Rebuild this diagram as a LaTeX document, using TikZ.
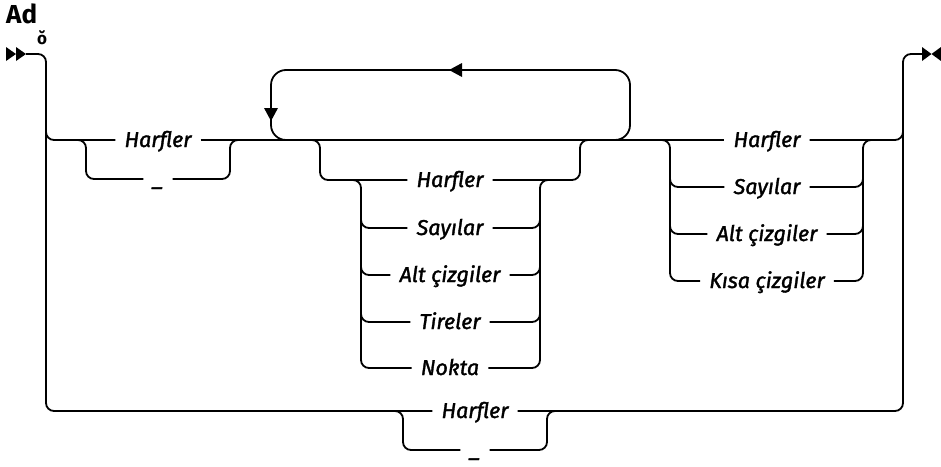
\documentclass[tikz,border=0pt]{standalone}
\usepackage{fontspec}
\setmainfont{Fira Sans}
\newfontfamily\lblfont[FakeBold=1.6]{Fira Sans}
\begin{document}
\begin{tikzpicture}[x=1pt,y=-1pt,
  rr/.style={line width=1.8pt, rounded corners=8pt},
  loopline/.style={line width=1.8pt, rounded corners=15pt},
  lbl/.style={font=\lblfont\fontsize{21.5}{23}\selectfont\itshape, inner xsep=9pt, inner ysep=0pt, text height=14pt, text depth=0pt},
  tip/.style={fill=black}]
\useasboundingbox (0,0) rectangle (941,466);
% title and mark
\node[font=\fontsize{26}{28}\selectfont\bfseries, anchor=base west, inner sep=0pt] (title) at (6,23) {Ad};
\node[font=\fontsize{17}{18}\selectfont\bfseries, inner sep=0pt] (mk) at (42,38) {ŏ};
% labels
\node[lbl] (h1) at (158,140) {Harfler};
\node[lbl] (u1) at (158,179) {\_};
\node[lbl] (m1) at (450,180) {Harfler};
\node[lbl] (m2) at (450,228) {Sayılar};
\node[lbl] (m3) at (450,275) {Alt çizgiler};
\node[lbl] (m4) at (450,322) {Tireler};
\node[lbl] (m5) at (450,368) {Nokta};
\node[lbl] (r1) at (767,140) {Harfler};
\node[lbl] (r2) at (767,187) {Sayılar};
\node[lbl] (r3) at (767,234) {Alt çizgiler};
\node[lbl] (r4) at (767,281) {Kısa çizgiler};
\node[lbl] (hb) at (475,411) {Harfler};
\node[lbl] (ub) at (475,450) {\_};
\coordinate (s) at (26,54);
\coordinate (e) at (922,54);
% outer frame
\draw[rr] (s) -- (46,54) -- (46,411) -- (hb.west);
\draw[rr] (46,120) -- (46,140) -- (h1.west);
\draw[rr] (hb.east) -- (903,411) -- (903,130);
\draw[rr] (r1.east) -- (903,140) -- (903,54) -- (e);
% first choice
\draw[rr] (70,140) -- (86,140) -- (86,179) -- (u1.west);
\draw[rr] (u1.east) -- (230,179) -- (230,140) -- (246,140);
\draw[rr] (h1.east) -- (r1.west);
% loop
\draw[loopline] (605,140) -- (630,140) -- (630,70) -- (271,70) -- (271,140) -- (296,140);
\fill[tip] (264,108) -- (278,108) -- (271,121) -- cycle;
\fill[tip] (449,70) -- (462,63) -- (462,77) -- cycle;
% middle choice
\draw[rr] (300,140) -- (320,140) -- (320,180) -- (m1.west);
\draw[rr] (m1.east) -- (580,180) -- (580,140) -- (600,140);
\draw[rr] (345,180) -- (361,180) -- (361,368) -- (m5.west);
\draw[rr] (m5.east) -- (540,368) -- (540,180) -- (556,180);
\foreach \n/\y in {m2/228, m3/275, m4/322} {
  \draw[rr] (361,\y-20) -- (361,\y) -- (\n.west);
  \draw[rr] (\n.east) -- (540,\y) -- (540,\y-20);
}
% right choice
\draw[rr] (655,140) -- (670,140) -- (670,281) -- (r4.west);
\draw[rr] (r4.east) -- (863,281) -- (863,140) -- (880,140);
\foreach \n/\y in {r2/187, r3/234} {
  \draw[rr] (670,\y-20) -- (670,\y) -- (\n.west);
  \draw[rr] (\n.east) -- (863,\y) -- (863,\y-20);
}
% bottom choice
\draw[rr] (390,411) -- (403,411) -- (403,450) -- (ub.west);
\draw[rr] (ub.east) -- (547,450) -- (547,411) -- (560,411);
% end tips
\fill[tip] (6,47) -- (16,54) -- (6,61) -- cycle;
\fill[tip] (16,47) -- (26,54) -- (16,61) -- cycle;
\fill[tip] (922,47) -- (931.5,54) -- (922,61) -- cycle;
\fill[tip] (941,47) -- (931.5,54) -- (941,61) -- cycle;
\end{tikzpicture}
\end{document}
